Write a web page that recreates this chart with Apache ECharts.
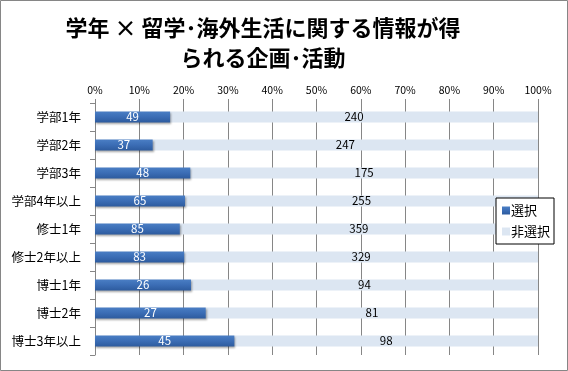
<!DOCTYPE html>
<html><head><meta charset="utf-8">
<script src="https://cdn.jsdelivr.net/npm/echarts@6/dist/echarts.min.js"></script>
<style>html,body{margin:0;padding:0;background:#fff}#c{width:568px;height:371px}</style>
</head><body><div id="c"></div>
<script>
var categories = ['学部1年','学部2年','学部3年','学部4年以上','修士1年','修士2年以上','博士1年','博士2年','博士3年以上'];
var selected = [49,37,48,65,85,83,26,27,45];
var notSelected = [240,247,175,255,359,329,94,81,98];
var tickLabels = ['0%','10%','20%','30%','40%','50%','60%','70%','80%','90%','100%'];

var selPct = selected.map(function(v,i){return v/(v+notSelected[i])*100;});
var nonPct = notSelected.map(function(v,i){return v/(v+selected[i])*100;});
var font = '"Noto Sans CJK JP", sans-serif';

var chart = echarts.init(document.getElementById('c'), null, {renderer:'canvas'});
chart.setOption({
  animation:false,
  textStyle:{fontFamily:font},
  title:{text:'学年 × 留学･海外生活に関する情報が得\nられる企画･活動', left:258, top:8, textAlign:'center',
    textStyle:{fontSize:22, fontWeight:'bold', color:'#000', lineHeight:30, fontFamily:font}},
  graphic:[{type:'rect', shape:{x:0.5,y:0.5,width:567,height:370}, style:{fill:'none', stroke:'#868686', lineWidth:1}, z:100}],
  legend:{orient:'vertical', left:496, top:198, width:62, height:48, padding:[6,4,6,6],
    borderColor:'#000', borderWidth:1, backgroundColor:'#fff', itemWidth:8, itemHeight:8, itemGap:8,
    textStyle:{fontSize:13, color:'#000', fontFamily:font, padding:[0,0,0,-4]},
    data:[{name:'選択', icon:'rect'},{name:'非選択', icon:'rect'}]},
  grid:{left:95, right:30, top:103, bottom:16, containLabel:false},
  xAxis:{type:'value', position:'top', min:0, max:100, interval:10,
    axisLabel:{formatter:function(v){return tickLabels[Math.round(v/10)];}, fontSize:10.5, color:'#000', margin:8, fontFamily:font},
    axisLine:{show:false}, axisTick:{show:true, length:4, lineStyle:{color:'#868686'}},
    splitLine:{show:true, lineStyle:{color:'#868686', width:1}}},
  yAxis:{type:'category', data:categories, inverse:true,
    axisLine:{show:true, lineStyle:{color:'#868686'}},
    axisTick:{show:true, length:5, inside:false, alignWithLabel:false, lineStyle:{color:'#868686'}},
    axisLabel:{fontSize:12.5, color:'#000', margin:14, fontFamily:font}},
  series:[
    {name:'選択', type:'bar', stack:'a', barWidth:11, data:selPct,
      itemStyle:{color:new echarts.graphic.LinearGradient(0,0,0,1,[{offset:0,color:'#4A7EC4'},{offset:0.5,color:'#3B6DB5'},{offset:1,color:'#2D5B9E'}]),
        shadowColor:'rgba(0,0,0,0.35)', shadowBlur:2, shadowOffsetX:1, shadowOffsetY:1},
      label:{show:true, position:'inside', color:'#fff', fontSize:11.5, fontFamily:font,
        formatter:function(p){return selected[p.dataIndex];}}, z:3},
    {name:'非選択', type:'bar', stack:'a', barWidth:11, data:nonPct,
      itemStyle:{color:'#DCE6F2'},
      label:{show:true, position:'inside', color:'#000', fontSize:11.5, fontFamily:font,
        formatter:function(p){return notSelected[p.dataIndex];}}, z:2}
  ]
});
</script></body></html>
